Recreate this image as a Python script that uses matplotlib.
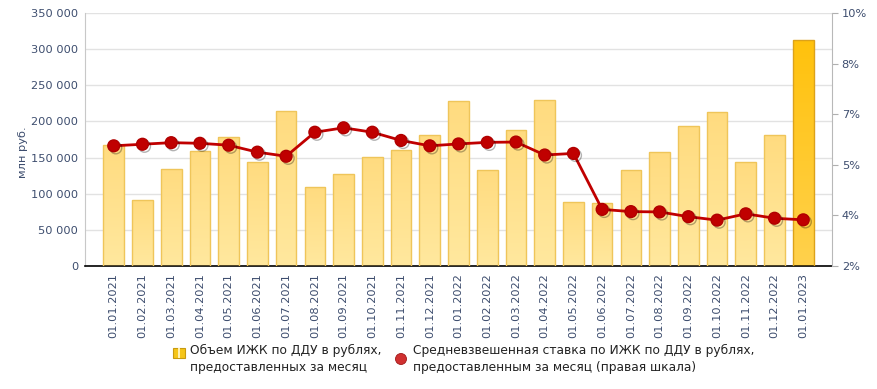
import numpy as np
import matplotlib
matplotlib.use("Agg")
import matplotlib.pyplot as plt
import matplotlib.patheffects as pe
from matplotlib.patches import Rectangle, Ellipse

# данные
dates = ["01.01.2021", "01.02.2021", "01.03.2021", "01.04.2021", "01.05.2021",
         "01.06.2021", "01.07.2021", "01.08.2021", "01.09.2021", "01.10.2021",
         "01.11.2021", "01.12.2021", "01.01.2022", "01.02.2022", "01.03.2022",
         "01.04.2022", "01.05.2022", "01.06.2022", "01.07.2022", "01.08.2022",
         "01.09.2022", "01.10.2022", "01.11.2022", "01.12.2022", "01.01.2023"]
volume = [167400, 90900, 134600, 159100, 178000, 143400, 214400, 108900,
          126800, 150300, 160500, 181200, 228300, 132800, 188100, 229600,
          89000, 86700, 132800, 157700, 193200, 213000, 143400, 181700, 312200]
rate = [5.80, 5.85, 5.90, 5.88, 5.82, 5.60, 5.47, 6.23, 6.37, 6.23, 5.97,
        5.80, 5.86, 5.91, 5.92, 5.51, 5.56, 3.79, 3.72, 3.71, 3.56, 3.45,
        3.65, 3.51, 3.46]

left_ticks = [0, 50000, 100000, 150000, 200000, 250000, 300000, 350000]
right_ticks = [2.0, 3.6, 5.2, 6.8, 8.4, 10.0]
right_labels = ["2%", "4%", "5%", "7%", "8%", "10%"]

TXT = "#3d4d6e"
W, H = 878, 389

fig = plt.figure(figsize=(8.78, 3.89), dpi=100)
ax = fig.add_axes([85 / W, 1 - 266 / H, 747 / W, 253 / H])
x = np.arange(len(dates))

# столбцы с градиентом
bars = ax.bar(x, volume, width=0.72, color="none", edgecolor="none", zorder=2)
light = np.array([[1.0, 0.91, 0.62], [1.0, 0.86, 0.50]])
dark = np.array([[1.0, 0.82, 0.30], [1.0, 0.76, 0.05]])
for i, b in enumerate(bars):
    c = dark if i == len(bars) - 1 else light
    grad = np.linspace(0, 1, 64)[:, None, None]
    img = c[0] * (1 - grad) + c[1] * grad
    im = ax.imshow(img, extent=[b.get_x(), b.get_x() + b.get_width(), b.get_height(), 0],
                   aspect="auto", zorder=2, interpolation="bilinear")
    im.set_clip_path(b)
    ec = "#dca21a" if i == len(bars) - 1 else "#efc55a"
    ax.add_patch(Rectangle((b.get_x(), 0), b.get_width(), b.get_height(),
                           fill=False, edgecolor=ec, linewidth=1.0, zorder=3))
ax.set_ylim(0, 350000)
ax.set_xlim(-1.0, len(dates))

ax.set_yticks(left_ticks)
ax.set_yticklabels([f"{v:,}".replace(",", " ") for v in left_ticks])
ax.yaxis.grid(True, color="#e2e2e2", linewidth=1.0, zorder=0)
ax.set_axisbelow(True)
ax.tick_params(axis="y", length=0, pad=5, labelsize=8.2, labelcolor=TXT)
ax.set_xticks(x)
ax.set_xticklabels(dates, rotation=90)
ax.tick_params(axis="x", length=0, pad=5, labelsize=8.2, labelcolor=TXT)
ax.set_ylabel("млн руб.", color=TXT, fontsize=8.2)
ax.yaxis.set_label_coords((28 - 85) / 747, 0.45)

for s in ["top", "right"]:
    ax.spines[s].set_visible(False)
ax.spines["left"].set_color("#c8c8c8")
ax.spines["bottom"].set_color("#000000")
ax.spines["bottom"].set_linewidth(1.2)

# ставка (правая шкала)
ax2 = ax.twinx()
ax2.set_ylim(2, 10)
ax2.plot(x, rate, color="#c00000", linewidth=2, zorder=5)
ax2.plot(x, rate, linestyle="none", marker="o", markersize=8.5,
         markerfacecolor="#c00000", markeredgecolor="#b00000", zorder=6,
         path_effects=[pe.SimpleLineShadow(offset=(1.5, -1.5), shadow_color="#000000", alpha=0.3),
                       pe.Normal()])
ax2.set_yticks(right_ticks)
ax2.set_yticklabels(right_labels)
ax2.tick_params(axis="y", length=4, color="#b0b0b0", pad=3, labelsize=8.2, labelcolor=TXT)
for s in ["top", "left", "bottom"]:
    ax2.spines[s].set_visible(False)
ax2.spines["right"].set_color("#b8b8b8")

# легенда
fig.patches.append(Rectangle((173 / W, 1 - 358 / H), 12 / W, 10.5 / H,
                             transform=fig.transFigure, facecolor="#f5c518",
                             edgecolor="#c89a10", linewidth=0.8))
fig.patches.append(Rectangle((178 / W, 1 - 358 / H), 2 / W, 10.5 / H,
                             transform=fig.transFigure, facecolor="#fff0b0",
                             edgecolor="none"))
fig.text(190 / W, 1 - 359 / H,
         "Объем ИЖК по ДДУ в рублях,\nпредоставленных за месяц",
         fontsize=8.8, color="#222222", va="center", ha="left", linespacing=1.35)
fig.patches.append(Ellipse((401 / W, 1 - 359 / H), 11 / W, 11 / H, transform=fig.transFigure,
                           facecolor="#d03030", edgecolor="#a01818", linewidth=0.6))
fig.text(413 / W, 1 - 359 / H,
         "Средневзвешенная ставка по ИЖК по ДДУ в рублях,\nпредоставленным за месяц (правая шкала)",
         fontsize=8.8, color="#222222", va="center", ha="left", linespacing=1.35)

fig.savefig("out.png", dpi=100)
